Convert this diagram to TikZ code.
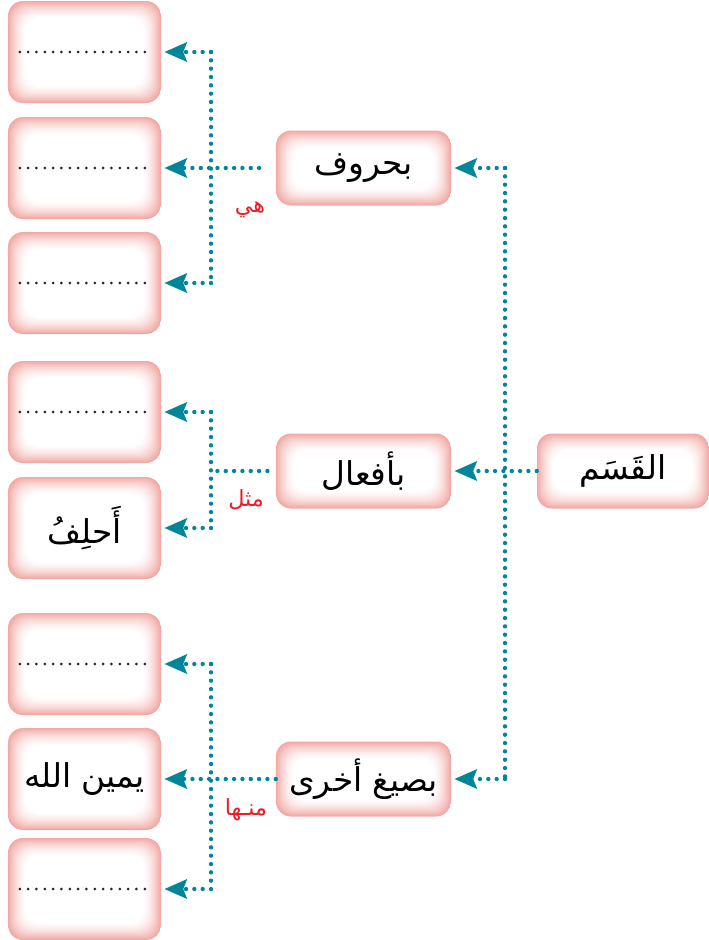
\documentclass[tikz,border=0pt]{standalone}
\usepackage{fontspec}
\usepackage{tikz}
\usetikzlibrary{positioning, arrows.meta, calc}
\newfontfamily\arabicfont[Script=Arabic]{DejaVu Sans}
\TeXXeTstate=1
\definecolor{linkteal}{HTML}{00859B}
\definecolor{boxpink}{HTML}{F2A8A4}
\definecolor{lblred}{HTML}{ED1C24}
\newcommand{\rtl}[1]{\beginR #1\endR}

\begin{document}
\begin{tikzpicture}[x=0.03cm, y=-0.03cm,
  glowbox/.style={rounded corners=4.5mm, inner sep=0pt,
    font=\arabicfont\fontsize{28}{32}\selectfont,
    path picture={
      \foreach \n in {0,...,18}{
        \pgfmathtruncatemacro{\pct}{100*(1-\n/18)^1.6}
        \pgfmathsetmacro{\dd}{0.3*\n}
        \fill[boxpink!\pct!white, rounded corners=4.5mm]
          ($(path picture bounding box.south west)+(\dd mm,\dd mm)$) rectangle
          ($(path picture bounding box.north east)-(\dd mm,\dd mm)$);
      }}},
  leaf/.style={glowbox, minimum width=4.59cm, minimum height=3.06cm},
  mid/.style={glowbox, minimum width=5.25cm, minimum height=2.25cm},
  rootbox/.style={glowbox, minimum width=5.16cm, minimum height=2.25cm},
  note/.style={text=lblred, font=\arabicfont\fontsize{19}{22}\selectfont},
  link/.style={linkteal, line width=0.13cm, line cap=round, dash pattern=on 0pt off 0.25cm},
  tip/.style={link, -{Stealth[length=0.68cm, width=0.6cm, inset=0.12cm, line width=0pt]}, shorten >=0.1cm},
  blankline/.style={black!85, line width=0.09cm, line cap=round, dash pattern=on 0pt off 0.25cm}]
\useasboundingbox (0,0) rectangle (709,940);

\node[rootbox] (root) at (623,471) {\rtl{القَسَم}};

\node[mid] (m1) at (363.5,168) {\rtl{بحروف}};
\node[mid] (m2) at (363.5,471) {\rtl{بأفعال}};
\node[mid] (m3) at (363.5,779) {\rtl{بصيغ أخرى}};

\node[leaf] (l1) at (84.5,52) {};
\node[leaf] (l2) at (84.5,168) {};
\node[leaf] (l3) at (84.5,283) {};
\node[leaf] (l4) at (84.5,412) {};
\node[leaf] (l5) at (84.5,528) {\rtl{أَحلِفُ}};
\node[leaf] (l6) at (84.5,664) {};
\node[leaf] (l7) at (84.5,779) {\rtl{يمين الله}};
\node[leaf] (l8) at (84.5,889) {};

\foreach \b in {l1,l2,l3,l4,l6,l8}
  \draw[blankline] ($(\b.west)+(0.36cm,0)$) -- ($(\b.east)+(-0.27cm,0)$);

\coordinate (trunk) at (505,0);
\coordinate (spine) at (211,0);

% from the root
\draw[tip] (root.west) -- (m2.east);
\draw[link] (trunk |- m1.east) -- (trunk |- m3.east);
\draw[tip] (trunk |- m1.east) -- (m1.east);
\draw[tip] (trunk |- m3.east) -- (m3.east);

% to the left column
\draw[tip, shorten <=0.5cm] (m1.west) -- (l2.east);
\draw[link, shorten <=0.25cm] (m2.west) -- (spine |- m2.west);
\draw[tip] (m3.west) -- (l7.east);
\draw[link] (spine |- l1.east) -- (spine |- l3.east);
\draw[link] (spine |- l4.east) -- (spine |- l5.east);
\draw[link] (spine |- l6.east) -- (spine |- l8.east);
\foreach \b in {l1,l3,l4,l5,l6,l8}
  \draw[tip] (spine |- \b.east) -- (\b.east);

\node[note] (hi) at (250,210) {\rtl{هي}};
\node[note] (mithl) at (246,500) {\rtl{مثل}};
\node[note] (minha) at (246,810) {\rtl{منـها}};
\end{tikzpicture}
\end{document}
